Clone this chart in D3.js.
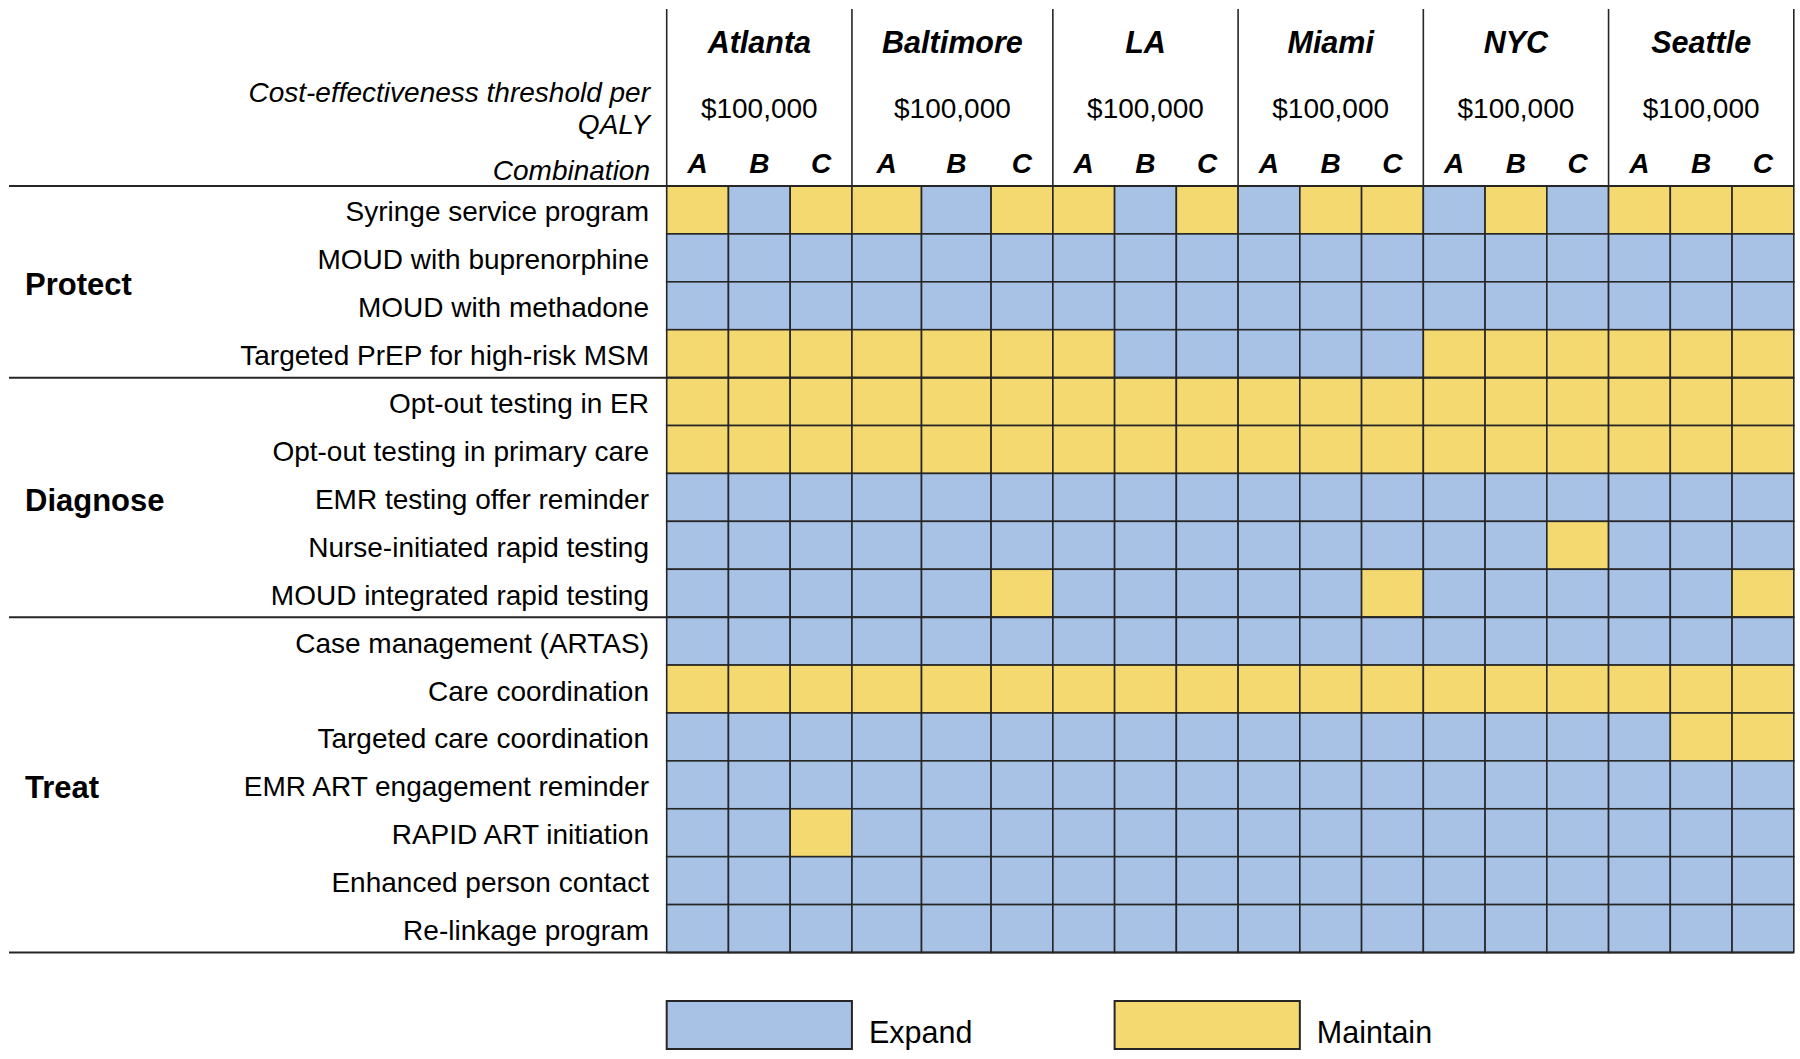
<!DOCTYPE html>
<html>
<head>
<meta charset="utf-8">
<script src="https://cdn.jsdelivr.net/npm/d3@7"></script>
<style>
  html, body { margin: 0; padding: 0; background: #fff; }
  svg { display: block; font-family: "Liberation Sans", Arial, Helvetica, sans-serif; }
</style>
</head>
<body>
<svg id="chart" width="1800" height="1059"></svg>
<script>
// ---------------- DATA ----------------
const cities = ["Atlanta", "Baltimore", "LA", "Miami", "NYC", "Seattle"];
const combinations = ["A", "B", "C"];
const thresholdLabel = "$100,000";
const groups = [
  { name: "Protect", items: ["Syringe service program", "MOUD with buprenorphine", "MOUD with methadone", "Targeted PrEP for high-risk MSM"] },
  { name: "Diagnose", items: ["Opt-out testing in ER", "Opt-out testing in primary care", "EMR testing offer reminder", "Nurse-initiated rapid testing", "MOUD integrated rapid testing"] },
  { name: "Treat", items: ["Case management (ARTAS)", "Care coordination", "Targeted care coordination", "EMR ART engagement reminder", "RAPID ART initiation", "Enhanced person contact", "Re-linkage program"] }
];
const interventions = groups.flatMap(g => g.items);
const statusLabels = ["Expand", "Maintain"];
// E = Expand, M = Maintain; per row: Atlanta ABC, Baltimore ABC, LA ABC, Miami ABC, NYC ABC, Seattle ABC
const decisions = [
  "MEM MEM MEM EMM EME MMM",
  "EEE EEE EEE EEE EEE EEE",
  "EEE EEE EEE EEE EEE EEE",
  "MMM MMM MEE EEE MMM MMM",
  "MMM MMM MMM MMM MMM MMM",
  "MMM MMM MMM MMM MMM MMM",
  "EEE EEE EEE EEE EEE EEE",
  "EEE EEE EEE EEE EEM EEE",
  "EEE EEM EEE EEM EEE EEM",
  "EEE EEE EEE EEE EEE EEE",
  "MMM MMM MMM MMM MMM MMM",
  "EEE EEE EEE EEE EEE EMM",
  "EEE EEE EEE EEE EEE EEE",
  "EEM EEE EEE EEE EEE EEE",
  "EEE EEE EEE EEE EEE EEE",
  "EEE EEE EEE EEE EEE EEE"
];

// ---------------- LAYOUT ----------------
const svg = d3.select("#chart");
const gridLeft = 666.7, gridRight = 1793.8, gridTop = 186, gridBottom = 952.5;
const lineLeft = 9, headerTop = 9;
const labelRight = 650;
const font = 28;
const stroke = "#262626";

const columns = cities.flatMap(c => combinations.map(k => ({ city: c, combo: k, key: c + "|" + k })));
// Baltimore A and B are slightly wider in the reference
const weightOf = col => (col.city === "Baltimore" && col.combo !== "C") ? 1.127 : 1;
let acc = 0;
columns.forEach(col => { col.start = acc; acc += weightOf(col); col.end = acc; });
const x = d3.scaleLinear().domain([0, acc]).range([gridLeft, gridRight]);
const y = d3.scaleBand().domain(interventions).range([gridTop, gridBottom]).padding(0);
const color = d3.scaleOrdinal().domain(statusLabels).range(["#A8C2E5", "#F4D970"]);

const cells = [];
interventions.forEach((name, r) => {
  const codes = decisions[r].replace(/ /g, "").split("");
  columns.forEach((col, c) => {
    cells.push({ row: name, col, status: codes[c] === "M" ? "Maintain" : "Expand" });
  });
});

// cells
svg.append("g").selectAll("rect").data(cells).join("rect")
  .attr("x", d => x(d.col.start))
  .attr("y", d => y(d.row))
  .attr("width", d => x(d.col.end) - x(d.col.start))
  .attr("height", y.bandwidth())
  .attr("fill", d => color(d.status))
  .attr("stroke", stroke)
  .attr("stroke-width", 1.6);

// city separators in header (and grid outer)
const cityBounds = cities.map(c => {
  const cs = columns.filter(col => col.city === c);
  return { city: c, x0: x(cs[0].start), x1: x(cs[cs.length - 1].end) };
});
const vlines = [gridLeft, ...cityBounds.map(b => b.x1)];
svg.append("g").selectAll("line").data(vlines).join("line")
  .attr("x1", d => d).attr("x2", d => d)
  .attr("y1", headerTop).attr("y2", gridTop)
  .attr("stroke", stroke).attr("stroke-width", 1.6);

// horizontal rules: header bottom, group separators, bottom
let cum = 0;
const hRules = [gridTop];
groups.forEach(g => { cum += g.items.length; hRules.push(y(interventions[cum - 1]) + y.bandwidth()); });
svg.append("g").selectAll("line").data(hRules).join("line")
  .attr("x1", lineLeft).attr("x2", gridRight)
  .attr("y1", d => d).attr("y2", d => d)
  .attr("stroke", stroke).attr("stroke-width", 2);

// header texts
const hdr = svg.append("g").attr("fill", "#000");
hdr.selectAll("text.city").data(cityBounds).join("text")
  .attr("class", "city")
  .attr("x", d => (d.x0 + d.x1) / 2).attr("y", 42)
  .attr("text-anchor", "middle").attr("dominant-baseline", "central")
  .attr("font-size", 30.5).attr("font-weight", "bold").attr("font-style", "italic")
  .text(d => d.city);
hdr.selectAll("text.thr").data(cityBounds).join("text")
  .attr("class", "thr")
  .attr("x", d => (d.x0 + d.x1) / 2).attr("y", 108)
  .attr("text-anchor", "middle").attr("dominant-baseline", "central")
  .attr("font-size", font)
  .text(thresholdLabel);
hdr.selectAll("text.combo").data(columns).join("text")
  .attr("class", "combo")
  .attr("x", d => (x(d.start) + x(d.end)) / 2).attr("y", 163)
  .attr("text-anchor", "middle").attr("dominant-baseline", "central")
  .attr("font-size", font).attr("font-weight", "bold").attr("font-style", "italic")
  .text(d => d.combo);

const hdrLeft = [
  { t: "Cost-effectiveness threshold per", y: 92 },
  { t: "QALY", y: 124 },
  { t: "Combination", y: 170 }
];
hdr.selectAll("text.hl").data(hdrLeft).join("text")
  .attr("class", "hl")
  .attr("x", labelRight).attr("y", d => d.y)
  .attr("text-anchor", "end").attr("dominant-baseline", "central")
  .attr("font-size", font).attr("font-style", "italic")
  .text(d => d.t);

// row labels
svg.append("g").selectAll("text").data(interventions).join("text")
  .attr("x", labelRight - 1).attr("y", d => y(d) + y.bandwidth() / 2 + 2)
  .attr("text-anchor", "end").attr("dominant-baseline", "central")
  .attr("font-size", font)
  .text(d => d);

// group labels
cum = 0;
const groupPos = groups.map(g => {
  const first = interventions[cum];
  cum += g.items.length;
  const last = interventions[cum - 1];
  return { name: g.name, cy: (y(first) + y(last) + y.bandwidth()) / 2 };
});
svg.append("g").selectAll("text").data(groupPos).join("text")
  .attr("x", 25).attr("y", d => d.cy + 3)
  .attr("dominant-baseline", "central")
  .attr("font-size", 31).attr("font-weight", "bold")
  .text(d => d.name);

// legend
const legendItems = [
  { label: "Expand", x0: x(columns[0].start), x1: x(columns[2].end) },
  { label: "Maintain", x0: x(columns[7].start), x1: x(columns[9].end) }
];
const lg = svg.append("g").selectAll("g").data(legendItems).join("g");
lg.append("rect")
  .attr("x", d => d.x0).attr("y", 1001)
  .attr("width", d => d.x1 - d.x0).attr("height", 48)
  .attr("fill", d => color(d.label))
  .attr("stroke", stroke).attr("stroke-width", 2);
lg.append("text")
  .attr("x", d => d.x1 + 17).attr("y", 1032)
  .attr("dominant-baseline", "central")
  .attr("font-size", 30.5)
  .text(d => d.label);
</script>
</body>
</html>
